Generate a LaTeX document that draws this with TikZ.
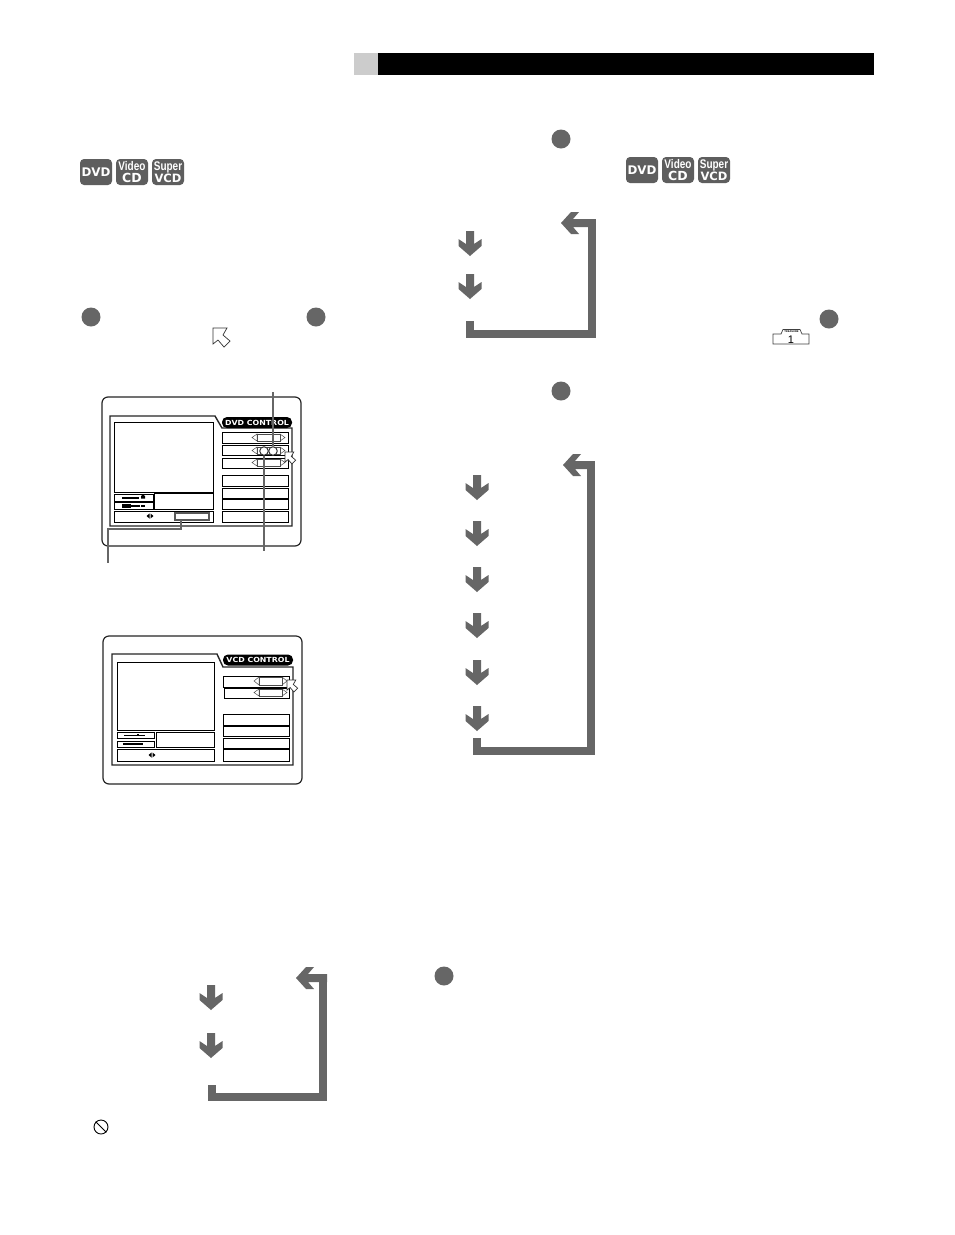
\documentclass[tikz,border=0pt]{standalone}
\usepackage{fontspec}
\setmainfont{Liberation Sans}
\newfontfamily\dvfont{DejaVu Sans}
\definecolor{mgray}{HTML}{666666}
\definecolor{hgray}{HTML}{CCCCCC}
\tikzset{
  badge/.style={fill=mgray!92!black,rounded corners=4pt,draw=none},
  badgetxt/.style={text=white,font=\bfseries,align=center,inner sep=0pt},
  bullet/.style={circle,fill=mgray,draw=none,minimum size=19pt,inner sep=0pt},
  loopline/.style={draw=mgray,line width=8pt,line cap=butt,line join=miter},
  arrowshape/.style={fill=mgray,draw=none},
  panelouter/.style={draw=black!85,line width=1.2pt,fill=white,rounded corners=6pt},
  panelframe/.style={draw=black!85,line width=1.4pt,fill=white},
  cell/.style={draw=black,line width=1pt,fill=white},
  pill/.style={fill=black,rounded corners=5pt,draw=none,text=white,inner sep=0pt,font=\dvfont\bfseries\fontsize{7}{8}\selectfont},
  spin/.style={draw=black!70,line width=.5pt,fill=white},
  leader/.style={draw=black!60,line width=1.2pt},
  cursorshape/.style={draw=black!80,line width=.7pt,fill=white,line join=miter},
  tinybar/.style={fill=black,draw=none}
}
% three format badges; #1 = prefix for names, (#2,#3) top left of the DVD badge
\newcommand{\fmtbadges}[3]{%
  \node[badge,minimum width=32pt,minimum height=26pt,inner sep=0pt,badgetxt] (#1dvd) at (#2+16,#3+13) {\dvfont\fontsize{11}{11}\selectfont\scalebox{1.08}[1.08]{DVD}};
  \node[badge,minimum width=32pt,minimum height=26pt,inner sep=0pt,badgetxt] (#1vcd) at (#2+52,#3+13) {\fontsize{12.5}{11}\selectfont\scalebox{.8}[1]{Video}\\\dvfont\fontsize{12.5}{11}\selectfont CD};
  \node[badge,minimum width=32pt,minimum height=26pt,inner sep=0pt,badgetxt] (#1svcd) at (#2+88,#3+13) {\fontsize{12.5}{11}\selectfont\scalebox{.8}[1]{Super}\\\dvfont\fontsize{11.5}{11}\selectfont VCD};
}
% down arrow: centre x, shaft top y
\newcommand{\downarr}[2]{%
  \fill[arrowshape,shift={(#1,#2)}] (-4,0)--(-4,13)--(-11.5,8)--(-11.5,15)--(0,25)--(11.5,15)--(11.5,8)--(4,13)--(4,0)--cycle;
}
% left arrow head: tip x, centre y, tail joins the line
\newcommand{\leftarr}[2]{%
  \fill[arrowshape,shift={(#1,#2)}] (0,0)--(10,-11)--(18,-11)--(12,-4)--(31,-4)--(31,4)--(12,4)--(18,11)--(10,11)--cycle;
}
% hollow pointer, top-left tip at (#1,#2), scale #3
\newcommand{\pointer}[3]{%
  \draw[cursorshape,shift={(#1,#2)}] (0,0)--(#3*14,0)--(#3*10,#3*7)--(#3*17,#3*13)--(#3*11,#3*19)--(#3*5,#3*12)--(0,#3*16)--cycle;
}
\newcommand{\spinner}[4]{% x left tri, x rect start, y top, y bottom
  \draw[spin] (#2,#3)--(#1,{(#3+#4)/2})--(#2,#4)--cycle;
  \draw[spin] (#2+23,#3)--(#2+28,{(#3+#4)/2})--(#2+23,#4)--cycle;
  \draw[spin] (#2,#3) rectangle (#2+23,#4);
}
\newcommand{\lrmark}[2]{%
  \fill[black] (#1-.5,#2-2.5)--(#1-3.5,#2)--(#1-.5,#2+2.5)--cycle;
  \fill[black] (#1+.5,#2-2.5)--(#1+3.5,#2)--(#1+.5,#2+2.5)--cycle;
}
\begin{document}
\begin{tikzpicture}[x=1pt,y=-1pt]
\useasboundingbox[fill=white] (0,0) rectangle (954,1235);
% header
\fill[hgray] (354,53) rectangle (378,75);
\fill[black] (378,53) rectangle (874,75);
% badges
\fmtbadges{a}{80}{159}
\fmtbadges{b}{626}{157}
% bullets
\node[bullet] (b1) at (91,317) {};
\node[bullet] (b2) at (316,317) {};
\node[bullet] (b3) at (561,139) {};
\node[bullet] (b4) at (829,319) {};
\node[bullet] (b5) at (561,391) {};
\node[bullet] (b6) at (444,976) {};
\pointer{213}{328}{1}
% treasure icon
\draw[black!75,line width=.7pt,fill=white] (773,344)--(773,334)--(781,334)--(783,329.5)--(800,329.5)--(802,334)--(809,334)--(809,344)--cycle;
\node[inner sep=0pt,font=\bfseries\fontsize{2.6}{3}\selectfont] (trs) at (791.5,332) {TREASURE};
\node[inner sep=0pt,font=\fontsize{11}{12}\selectfont] (trn) at (791,339.5) {1};
% loop 1
\draw[loopline] (470,321)--(470,333.5)--(592,333.5)--(592,223)--(570,223);
\leftarr{561}{223}
\downarr{470}{231}
\downarr{470}{274}
% loop 2
\draw[loopline] (477,738)--(477,751)--(591,751)--(591,465)--(572,465);
\leftarr{563}{465}
\downarr{477}{475}
\downarr{477}{521}
\downarr{477}{567}
\downarr{477}{613}
\downarr{477}{660}
\downarr{477}{706}
% loop 3
\draw[loopline] (212,1085)--(212,1097)--(323,1097)--(323,978)--(305,978);
\leftarr{296}{978}
\downarr{211}{985}
\downarr{211}{1033}
% prohibited sign
\node[circle,draw=black,line width=.9pt,minimum size=14pt,inner sep=0pt] (nosign) at (101,1127) {};
\draw[black,line width=.9pt] (nosign.north west)--(nosign.south east);
% ---------- DVD panel
\draw[panelouter] (102,397) rectangle (301,546);
\draw[panelframe] (110,416)--(215,416)--(222,428)--(292,428)--(292,526)--(110,526)--cycle;
\node[pill,minimum width=70pt,minimum height=11pt] (dvdtitle) at (257,422.5) {\scalebox{1.12}[1]{DVD CONTROL}};
\draw[cell] (114,422) rectangle (213,492);
\draw[cell] (114,494) rectangle (153,501);
\draw[cell] (114,502) rectangle (153,509);
\draw[cell] (154,493) rectangle (213,509);
\draw[cell] (114,511) rectangle (213,522);
\draw[draw=black!65,line width=1.5pt,fill=white] (175,513) rectangle (209,520);
\lrmark{150}{516}
\fill[tinybar] (122,497) rectangle (139,498.5);
\fill[tinybar] (141,496)--(143,494.5)--(145,496)--(145,498.5)--(141,498.5)--cycle;
\fill[tinybar] (122,503.5) rectangle (131,508);
\fill[tinybar] (131,505) rectangle (140,506.5);
\fill[tinybar] (141,505) rectangle (145,506.5);
\foreach \ya/\yb in {432/443,445/455,458/468,475/486,488/498,499/509,511/522}{
  \draw[cell] (222,\ya) rectangle (288,\yb);
}
\spinner{252}{257}{434}{441}
\spinner{252}{257}{447}{454}
\spinner{252}{257}{459}{466}
\node[circle,draw=black!80,line width=1pt,fill=white,minimum size=8.5pt,inner sep=0pt] (ring1) at (264,451) {};
\node[circle,draw=black!80,line width=1pt,fill=white,minimum size=8.5pt,inner sep=0pt] (ring2) at (273,451) {};
\pointer{285}{452}{.63}
\coordinate (ltop) at (273,392);
\coordinate (lbot) at (264,551);
\coordinate (lsub) at (181,520);
\coordinate (lend) at (108,563);
\draw[leader] (ltop)--(ring2.north);
\draw[leader] (ring1.south)--(lbot);
\draw[leader] (lsub)--(181,529)--(108,529)--(lend);
% ---------- VCD panel
\draw[panelouter] (103,636) rectangle (302,784);
\draw[panelframe] (112,654)--(217,654)--(223,667)--(293,667)--(293,765)--(112,765)--cycle;
\node[pill,minimum width=70pt,minimum height=11pt] (vcdtitle) at (258,660) {\scalebox{1.12}[1]{VCD CONTROL}};
\draw[cell] (117,662) rectangle (214,730);
\draw[cell] (117,732) rectangle (154,738);
\draw[cell] (117,741) rectangle (154,747);
\draw[cell] (156,732) rectangle (214,747);
\draw[cell] (117,749) rectangle (214,761);
\lrmark{152}{755}
\fill[tinybar] (124,735) rectangle (145,736);
\fill[tinybar] (137,733.5) rectangle (139,736);
\fill[tinybar] (123,743) rectangle (143,745);
\draw[cell] (223,676) rectangle (289,687);
\draw[cell] (224,688) rectangle (289,698);
\foreach \ya/\yb in {714/725,726/736,738/748,749/761}{
  \draw[cell] (223,\ya) rectangle (289,\yb);
}
\spinner{254}{259}{677}{685}
\spinner{254}{259}{689}{696}
\pointer{287}{680}{.63}
\end{tikzpicture}
\end{document}
